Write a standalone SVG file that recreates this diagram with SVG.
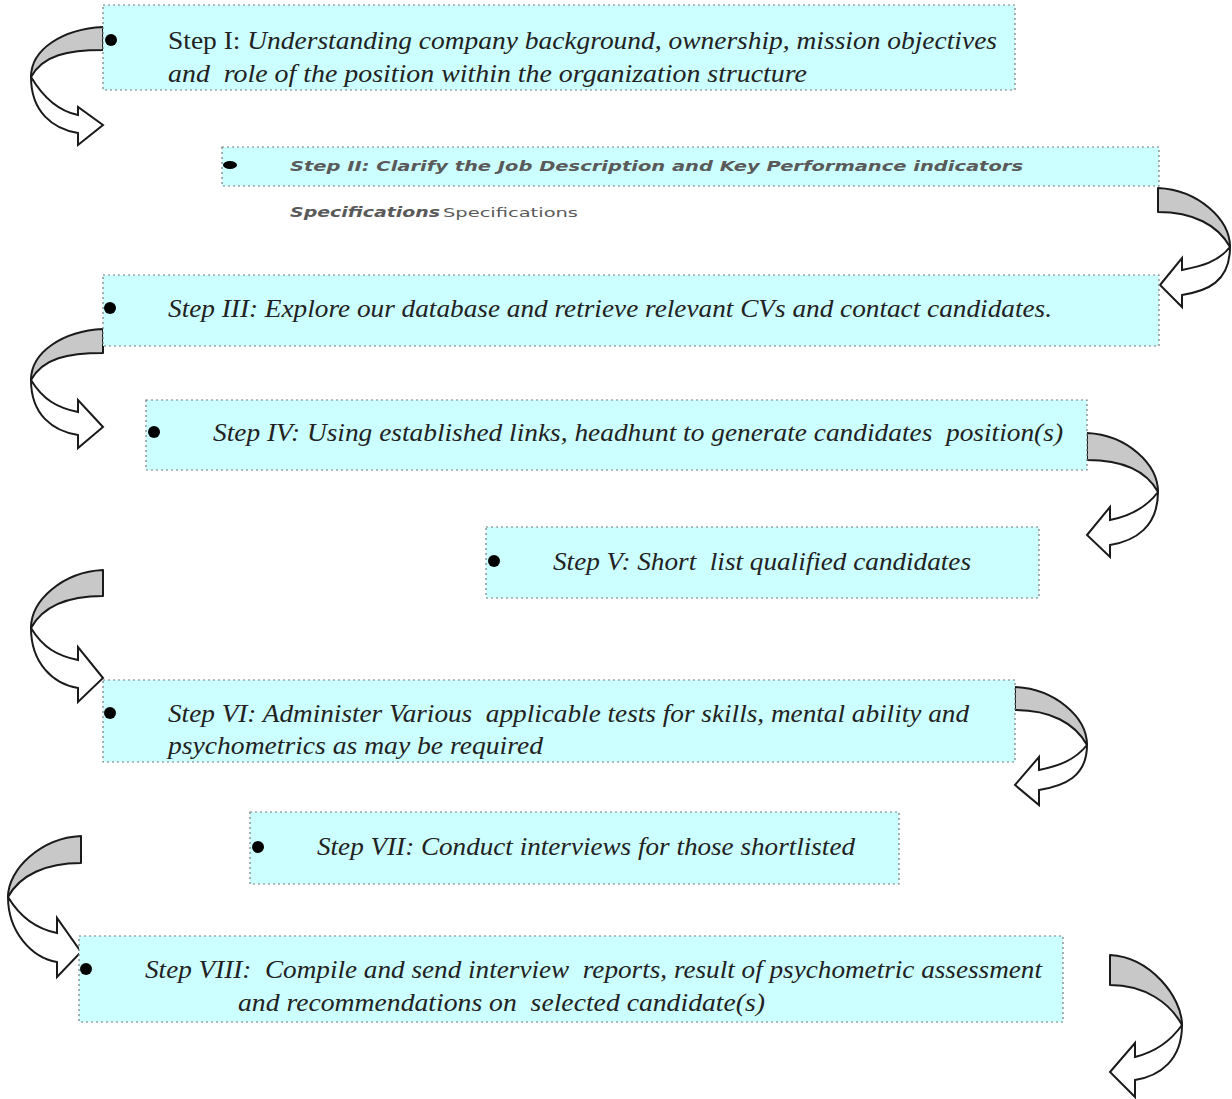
<svg xmlns="http://www.w3.org/2000/svg" width="1232" height="1099" viewBox="0 0 1232 1099">
<style>
.box{fill:#ccffff;stroke:#7a7a7a;stroke-width:1.2;stroke-dasharray:2 3}
.t{font-family:"Liberation Serif","Times New Roman",serif;font-style:italic;font-size:26px;fill:#222;white-space:pre}
.n{font-style:normal}
.b{fill:#000}
.s2{font-family:"DejaVu Sans","Verdana",sans-serif;font-style:italic;font-weight:bold;font-size:14px;fill:#5a5a5a;white-space:pre}
.s3{font-family:"DejaVu Sans","Verdana",sans-serif;font-size:13px;fill:#5a5a5a}
.back{fill:#c8c8c8;stroke:#1a1a1a;stroke-width:2;stroke-linejoin:round}
.front{fill:#fff;stroke:#1a1a1a;stroke-width:2;stroke-linejoin:miter}
</style>
<rect width="1232" height="1099" fill="#fff"/>
<g id="connectors">
<path class="back" d="M103,27 C63,29 31,49 31,77 C43,55 68,50 103,50 Z"/>
<path class="front" d="M31,77 C43,97 58,111 78,115 L78,107 L103,125 L78,145 L78,133 C53,129 31,112 31,77 Z"/>
<path class="back" d="M1158,188 C1198,190 1230,219 1230,247 C1218,225 1193,212 1158,212 Z"/>
<path class="front" d="M1230,247 C1218,262 1202,266 1182,270 L1182,258 L1160,285 L1182,307 L1182,295 C1207,291 1230,282 1230,247 Z"/>
<path class="back" d="M103,329 C63,331 31,352 31,380 C43,358 68,353 103,353 Z"/>
<path class="front" d="M31,380 C43,400 58,408 78,412 L78,400 L103,427 L78,448 L78,435 C53,431 31,415 31,380 Z"/>
<path class="back" d="M1087,433 C1127,435 1158,464 1158,492 C1146,470 1122,460 1087,460 Z"/>
<path class="front" d="M1158,492 C1146,508 1130,516 1110,520 L1110,507 L1087,535 L1110,557 L1110,545 C1135,541 1158,527 1158,492 Z"/>
<path class="back" d="M103,570 C63,572 31,600 31,628 C43,606 68,596 103,596 Z"/>
<path class="front" d="M31,628 C43,648 58,656 78,660 L78,647 L103,678 L78,702 L78,688 C53,684 31,663 31,628 Z"/>
<path class="back" d="M1015,687 C1055,689 1087,717 1087,745 C1075,723 1050,710 1015,710 Z"/>
<path class="front" d="M1087,745 C1075,760 1059,766 1039,770 L1039,757 L1015,785 L1039,805 L1039,790 C1064,786 1087,777 1087,745 Z"/>
<path class="back" d="M81,836 C41,838 8,869 8,897 C20,875 46,863 81,863 Z"/>
<path class="front" d="M8,897 C20,917 37,929 57,933 L57,918 L81,952 L57,977 L57,962 C32,958 8,932 8,897 Z"/>
<path class="back" d="M1110,955 C1150,957 1182,997 1182,1025 C1170,1003 1145,985 1110,985 Z"/>
<path class="front" d="M1182,1025 C1170,1042 1155,1052 1135,1057 L1135,1043 L1110,1072 L1135,1097 L1135,1080 C1160,1076 1182,1060 1182,1025 Z"/>
</g>
<g id="step1">
<rect class="box" x="103" y="5" width="912" height="85"/>
<circle class="b" cx="111" cy="40" r="6"/>
<text class="t" x="168" y="49" textLength="829" lengthAdjust="spacingAndGlyphs"><tspan class="n">Step I: </tspan>Understanding company background, ownership, mission objectives</text>
<text class="t" x="168" y="82" textLength="639" lengthAdjust="spacingAndGlyphs">and  role of the position within the organization structure</text>
</g>
<g id="step2">
<rect class="box" x="222" y="147" width="937" height="39"/>
<ellipse class="b" cx="230" cy="165" rx="7" ry="4"/>
<text class="s2" x="290" y="171" textLength="733" lengthAdjust="spacingAndGlyphs">Step II: Clarify the Job Description and Key Performance indicators</text>
<text class="s2" x="290" y="217" textLength="150" lengthAdjust="spacingAndGlyphs">Specifications</text>
<text class="s3" x="443" y="217" textLength="135" lengthAdjust="spacingAndGlyphs">Specifications</text>
</g>
<g id="step3">
<rect class="box" x="103" y="275" width="1056" height="71"/>
<circle class="b" cx="110" cy="308" r="6"/>
<text class="t" x="168" y="317" textLength="884" lengthAdjust="spacingAndGlyphs">Step III: Explore our database and retrieve relevant CVs and contact candidates.</text>
</g>
<g id="step4">
<rect class="box" x="146" y="400" width="941" height="70"/>
<circle class="b" cx="154" cy="432" r="6"/>
<text class="t" x="213" y="441" textLength="850" lengthAdjust="spacingAndGlyphs">Step IV: Using established links, headhunt to generate candidates  position(s)</text>
</g>
<g id="step5">
<rect class="box" x="486" y="527" width="553" height="71"/>
<circle class="b" cx="494" cy="561" r="6"/>
<text class="t" x="553" y="570" textLength="418" lengthAdjust="spacingAndGlyphs">Step V: Short  list qualified candidates</text>
</g>
<g id="step6">
<rect class="box" x="103" y="680" width="912" height="82"/>
<circle class="b" cx="110" cy="713" r="6"/>
<text class="t" x="168" y="722" textLength="801" lengthAdjust="spacingAndGlyphs">Step VI: Administer Various  applicable tests for skills, mental ability and</text>
<text class="t" x="168" y="754" textLength="375" lengthAdjust="spacingAndGlyphs">psychometrics as may be required</text>
</g>
<g id="step7">
<rect class="box" x="250" y="812" width="649" height="72"/>
<circle class="b" cx="258" cy="847" r="6"/>
<text class="t" x="317" y="855" textLength="538" lengthAdjust="spacingAndGlyphs">Step VII: Conduct interviews for those shortlisted</text>
</g>
<g id="step8">
<rect class="box" x="79" y="936" width="984" height="86"/>
<circle class="b" cx="86" cy="969" r="6"/>
<text class="t" x="145" y="978" textLength="897" lengthAdjust="spacingAndGlyphs">Step VIII:  Compile and send interview  reports, result of psychometric assessment</text>
<text class="t" x="238" y="1011" textLength="527" lengthAdjust="spacingAndGlyphs">and recommendations on  selected candidate(s)</text>
</g>
</svg>
